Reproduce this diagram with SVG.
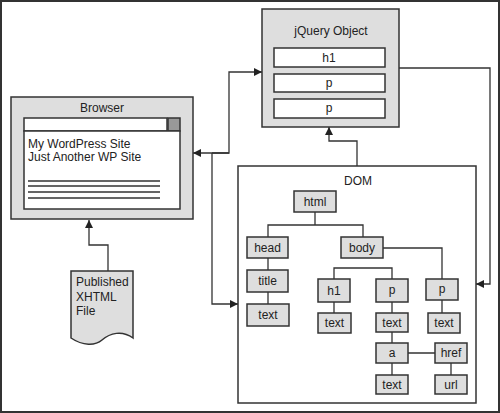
<svg xmlns="http://www.w3.org/2000/svg" width="500" height="413" viewBox="0 0 500 413">
<defs>
<style>
text{font-family:"Liberation Sans",Arial,sans-serif;fill:#222;}
.t{font-size:12px;text-anchor:middle;}
.panel{fill:#dedede;stroke:#333;stroke-width:1.5;}
.white{fill:#fff;stroke:#333;stroke-width:1.5;}
.node{fill:#dedede;stroke:#333;stroke-width:1.5;}
.wire{fill:none;stroke:#333;stroke-width:1.3;}
.ln{stroke:#333;stroke-width:1.3;}
</style>
<marker id="arr" viewBox="0 0 10 10" refX="10" refY="5" markerWidth="8" markerHeight="8" markerUnits="userSpaceOnUse" orient="auto">
<path d="M0,0 L10,5 L0,10 z" fill="#222"/>
</marker>
</defs>
<rect x="1" y="1" width="498" height="411" fill="#fff" stroke="#333" stroke-width="2"/>

<g id="connectors">
<path class="wire" d="M212,153 L229,153 L229,72 L262,72" marker-end="url(#arr)"/>
<path class="wire" d="M229,153 L193,153" marker-end="url(#arr)"/>
<path class="wire" d="M212,153 L212,304 L238,304" marker-end="url(#arr)"/>
<path class="wire" d="M399,68 L490,68 L490,284 L476,284" marker-end="url(#arr)"/>
<path class="wire" d="M357,166 L357,141 L329,141 L329,127" marker-end="url(#arr)"/>
<path class="wire" d="M108,271 L108,245 L89,245 L89,220" marker-end="url(#arr)"/>
</g>

<g id="browser">
<rect class="panel" x="11" y="97" width="182" height="122"/>
<text class="t" x="102" y="112">Browser</text>
<rect class="white" x="24" y="118" width="143" height="13"/>
<rect x="168" y="118" width="12" height="13" fill="#999" stroke="#333" stroke-width="1.5"/>
<rect class="white" x="24" y="131" width="156" height="78"/>
<text x="28" y="148" font-size="12">My WordPress Site</text>
<text x="28" y="161" font-size="12">Just Another WP Site</text>
<line class="ln" x1="28" y1="181" x2="160" y2="181"/>
<line class="ln" x1="28" y1="186" x2="160" y2="186"/>
<line class="ln" x1="28" y1="192" x2="160" y2="192"/>
<line class="ln" x1="28" y1="198" x2="160" y2="198"/>
</g>

<g id="file">
<path d="M71,271 L133,271 L133,338 C122,330 110,333 102,340 C95,346 83,346 71,338 Z" fill="#dedede" stroke="#333" stroke-width="1.5"/>
<text x="76" y="286" font-size="12">Published</text>
<text x="76" y="301" font-size="12">XHTML</text>
<text x="76" y="315" font-size="12">File</text>
</g>

<g id="jquery">
<rect class="panel" x="262" y="9" width="137" height="118"/>
<text class="t" x="331" y="35">jQuery Object</text>
<rect class="white" x="274" y="48" width="111" height="19"/>
<text class="t" x="329" y="62">h1</text>
<rect class="white" x="274" y="74" width="111" height="18"/>
<text class="t" x="329" y="87">p</text>
<rect class="white" x="274" y="99" width="111" height="19"/>
<text class="t" x="329" y="112">p</text>
</g>

<g id="dom">
<rect class="white" x="238" y="166" width="238" height="237"/>
<text class="t" x="358" y="185">DOM</text>
<g class="wire">
<path d="M315,212 L315,225 M268,237 L268,225 L363,225 L363,237"/>
<path d="M268,258 L268,270 M268,292 L268,304"/>
<path d="M383,248 L442,248 L442,279"/>
<path d="M334,279 L334,268 L392,268 L392,279"/>
<path d="M334,302 L334,313 M392,302 L392,313 M442,300 L442,313"/>
<path d="M392,332 L392,343 M392,363 L392,375 M408,353 L435,353 M451,363 L451,375"/>
</g>
<g id="n-html"><rect class="node" x="294" y="191" width="42" height="21"/><text class="t" x="315" y="206">html</text></g>
<g id="n-head"><rect class="node" x="247" y="237" width="41" height="21"/><text class="t" x="267.5" y="252">head</text></g>
<g id="n-body"><rect class="node" x="341" y="237" width="42" height="21"/><text class="t" x="362" y="252">body</text></g>
<g id="n-title"><rect class="node" x="247" y="270" width="41" height="22"/><text class="t" x="267.5" y="285">title</text></g>
<g id="n-text1"><rect class="node" x="247" y="304" width="42" height="22"/><text class="t" x="268" y="319">text</text></g>
<g id="n-h1"><rect class="node" x="318" y="279" width="32" height="23"/><text class="t" x="334" y="295">h1</text></g>
<g id="n-p1"><rect class="node" x="376" y="279" width="32" height="23"/><text class="t" x="392" y="294">p</text></g>
<g id="n-p2"><rect class="node" x="426" y="279" width="32" height="21"/><text class="t" x="442" y="293">p</text></g>
<g id="n-text2"><rect class="node" x="318" y="313" width="33" height="20"/><text class="t" x="334.5" y="327">text</text></g>
<g id="n-text3"><rect class="node" x="376" y="313" width="32" height="19"/><text class="t" x="392" y="327">text</text></g>
<g id="n-text4"><rect class="node" x="428" y="313" width="32" height="20"/><text class="t" x="444" y="327">text</text></g>
<g id="n-a"><rect class="node" x="376" y="343" width="32" height="20"/><text class="t" x="392" y="357">a</text></g>
<g id="n-href"><rect class="node" x="435" y="343" width="32" height="20"/><text class="t" x="451" y="357">href</text></g>
<g id="n-text5"><rect class="node" x="376" y="375" width="32" height="19"/><text class="t" x="392" y="389">text</text></g>
<g id="n-url"><rect class="node" x="435" y="375" width="32" height="19"/><text class="t" x="451" y="389">url</text></g>
</g>
</svg>
